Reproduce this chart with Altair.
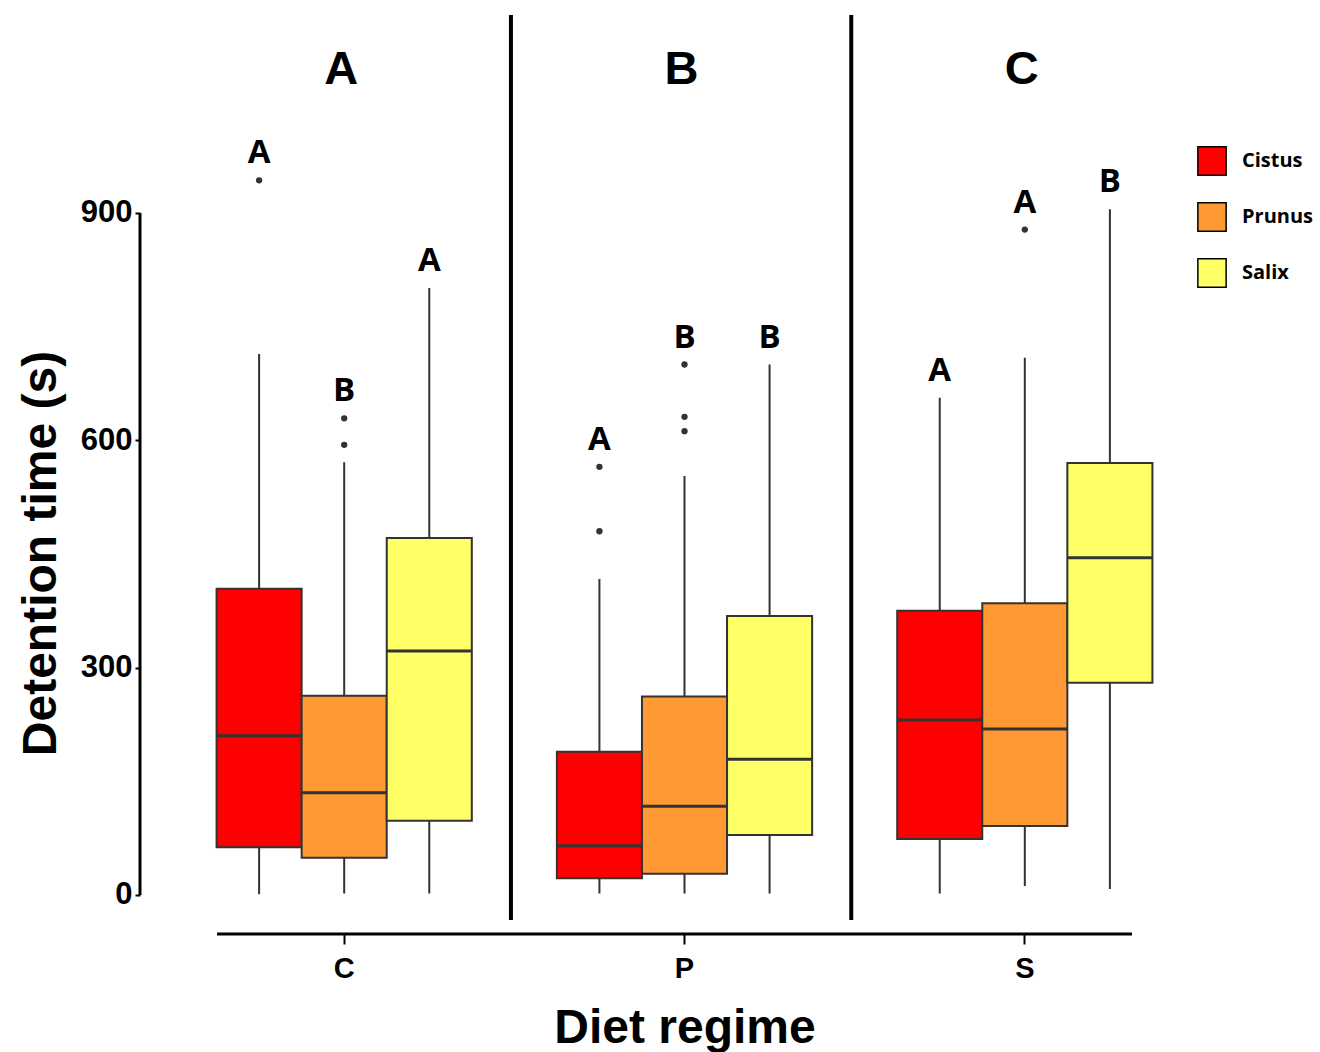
import altair as alt
import pandas as pd

# Categories
groups = ["C", "P", "S"]
species = ["Cistus", "Prunus", "Salix"]
species_colors = ["#FF0000", "#FF9933", "#FFFF66"]
panel_labels = ["A", "B", "C"]

# Box statistics, one entry per (diet regime, plant) box
box_group = ["C", "C", "C", "P", "P", "P", "S", "S", "S"]
box_species = ["Cistus", "Prunus", "Salix"] * 3
whisker_lo = [1, 2, 2, 2, 2, 2, 2, 12, 8]
q1 = [63, 49, 98, 22, 28, 79, 74, 91, 280]
median = [210, 135, 322, 65, 117, 179, 231, 219, 445]
q3 = [404, 263, 471, 189, 262, 368, 375, 385, 570]
whisker_hi = [714, 571, 801, 417, 553, 700, 656, 709, 905]
sig_letters = ["A", "B", "A", "A", "B", "B", "A", "A", "B"]

# Outlying observations
outlier_group = ["C", "C", "C", "P", "P", "P", "P", "P", "S"]
outlier_species = ["Cistus", "Prunus", "Prunus", "Cistus", "Cistus",
                   "Prunus", "Prunus", "Prunus", "Prunus"]
outlier_value = [943, 594, 629, 480, 565, 612, 631, 700, 878]

boxes = pd.DataFrame({
    "group": box_group, "species": box_species,
    "lo": whisker_lo, "q1": q1, "med": median, "q3": q3, "hi": whisker_hi,
    "sig": sig_letters,
})
outliers = pd.DataFrame({"group": outlier_group, "species": outlier_species,
                         "value": outlier_value})
# highest drawn point of every box, used to place the letter above it
tops = outliers.groupby(["group", "species"])["value"].max()
boxes["top"] = [max(h, tops.get((g, s), h)) for g, s, h in
                zip(boxes["group"], boxes["species"], boxes["hi"])]

panels = pd.DataFrame({"group": groups, "label": panel_labels})
separators = pd.DataFrame({"group": groups[:-1]})

AXIS_FONT = "Liberation Sans"
LETTER_FONT = "Open Sans"
DARK = "#333333"

x_scale = alt.Scale(domain=groups, paddingInner=0, paddingOuter=0.1)
x_axis = alt.Axis(
    title="Diet regime", domain=False, grid=False,
    labelFont=AXIS_FONT, labelFontWeight="bold", labelFontSize=29,
    labelColor="black", labelAngle=0, labelBaseline="alphabetic",
    labelPadding=33, tickSize=10, tickWidth=2, tickColor="black",
    titleFont=AXIS_FONT, titleFontWeight="bold", titleFontSize=48,
    titleColor="black", titleBaseline="alphabetic", titleY=108,
)
y_scale = alt.Scale(domain=[-51.5, 1161.2], nice=False, zero=False)
y_axis = alt.Axis(
    title="Detention time (s)", values=[0, 300, 600, 900], domain=False,
    grid=False, labelFont=AXIS_FONT, labelFontWeight="bold",
    labelFontSize=31, labelColor="black", labelPadding=3,
    tickSize=5, tickWidth=2, tickColor="black",
    titleFont=AXIS_FONT, titleFontWeight="bold", titleFontSize=48,
    titleColor="black", titleAngle=270, titleBaseline="alphabetic",
    titleAlign="center", titleX=-85, titleY=538,
)
x_enc = alt.X("group:N", scale=x_scale, axis=x_axis)
x_off = alt.XOffset("species:N", sort=species,
                    scale=alt.Scale(paddingInner=0, paddingOuter=0.5))

# vertical dividers between the diet regimes
dividers = alt.Chart(separators).mark_rule(color="black", strokeWidth=4).encode(
    x=alt.X("group:N", scale=x_scale, axis=x_axis, bandPosition=0.99),
    y=alt.value(0), y2=alt.value(905),
)

whiskers = alt.Chart(boxes).mark_rule(color=DARK, strokeWidth=2).encode(
    x=x_enc, xOffset=x_off,
    y=alt.Y("lo:Q", scale=y_scale, axis=y_axis), y2="hi:Q",
)

box_bars = alt.Chart(boxes).mark_bar(stroke=DARK, strokeWidth=2, opacity=1).encode(
    x=x_enc, xOffset=x_off,
    y=alt.Y("q1:Q", scale=y_scale, axis=y_axis), y2="q3:Q",
    fill=alt.Fill(
        "species:N",
        scale=alt.Scale(domain=species, range=species_colors),
        legend=alt.Legend(
            title=None, orient="none", legendX=1057, legendY=131, padding=0,
            symbolType="square", symbolSize=800, symbolStrokeColor="black",
            symbolStrokeWidth=1.5, labelFont=LETTER_FONT,
            labelFontWeight="bold", labelFontSize=20, labelColor="black",
            labelOffset=15, rowPadding=20,
        ),
    ),
)

medians = alt.Chart(boxes).mark_tick(color=DARK, size=85, thickness=3, opacity=1).encode(
    x=x_enc, xOffset=x_off,
    y=alt.Y("med:Q", scale=y_scale, axis=y_axis),
)

outlier_pts = alt.Chart(outliers).mark_circle(color=DARK, size=40, opacity=1).encode(
    x=x_enc, xOffset=x_off,
    y=alt.Y("value:Q", scale=y_scale, axis=y_axis),
)

letters = alt.Chart(boxes).mark_text(
    font=LETTER_FONT, fontWeight="bold", fontSize=33, color="black",
    baseline="middle", dy=-27,
).encode(
    x=x_enc, xOffset=x_off,
    y=alt.Y("top:Q", scale=y_scale, axis=y_axis),
    text="sig:N",
)

panel_text = alt.Chart(panels).mark_text(
    font=AXIS_FONT, fontWeight="bold", fontSize=47, color="black",
    baseline="middle", dx=-3,
).encode(
    x=x_enc, y=alt.value(55), text="label:N",
)

# capped axis lines
y_line = alt.Chart(pd.DataFrame({"a": [0]})).mark_rule(color="black", strokeWidth=3).encode(
    x=alt.value(0), y=alt.datum(0, scale=y_scale), y2=alt.datum(900),
)
x_line = alt.Chart(pd.DataFrame({"a": [0]})).mark_rule(color="black", strokeWidth=3).encode(
    x=alt.value(77), x2=alt.value(992), y=alt.value(919),
)

chart = alt.layer(
    dividers, whiskers, box_bars, medians, outlier_pts, letters, panel_text,
    y_line, x_line,
).properties(
    width=1089, height=919,
    autosize=alt.AutoSizeParams(type="none"),
    padding={"left": 140, "top": 15, "right": 91, "bottom": 118},
    background="white",
).configure_view(stroke=None)

chart.save("out.html", embed_options={"renderer": "svg", "actions": False})
